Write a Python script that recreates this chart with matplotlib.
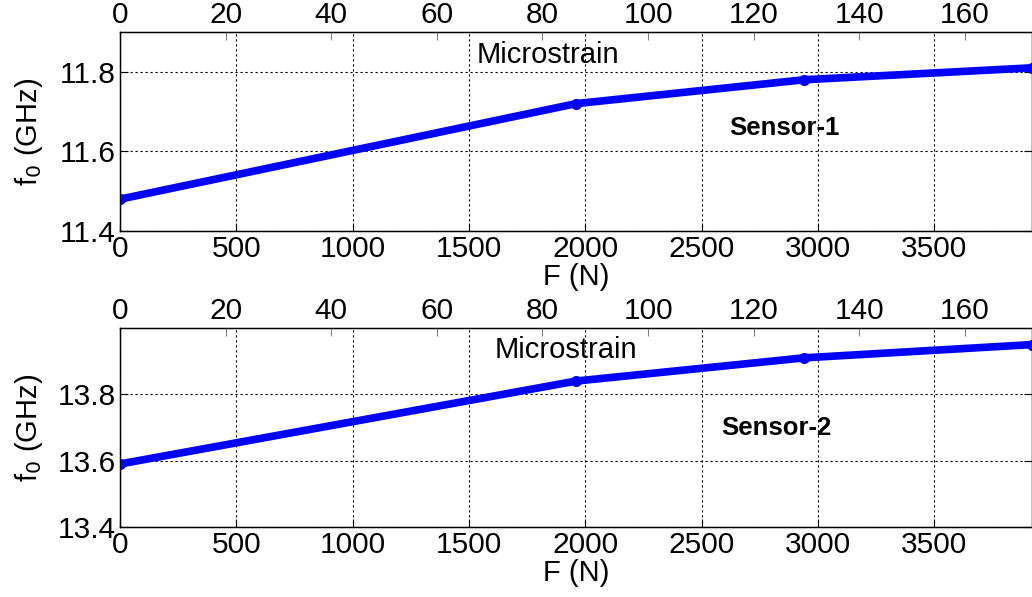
import matplotlib.pyplot as plt
import numpy as np

# data
force = [0, 1960, 2940, 3920]            # F (N)
f0_sensor1 = [11.48, 11.72, 11.78, 11.81]  # GHz
f0_sensor2 = [13.59, 13.84, 13.91, 13.95]  # GHz
strain_ticks = [0, 20, 40, 60, 80, 100, 120, 140, 160]
force_ticks = [0, 500, 1000, 1500, 2000, 2500, 3000, 3500]
strain_max = 172.7

plt.rcParams["font.family"] = ["Liberation Sans", "DejaVu Sans"]
plt.rcParams["font.size"] = 21.5

W, H = 1032, 597
fig = plt.figure(figsize=(W / 100, H / 100), dpi=100)


def make_panel(top_px, ylim, yticks, data, sensor, ms_pos, sensor_pos):
    left, right, bottom_px = 120, 1032, top_px + 199
    ax = fig.add_axes([left / W, (H - bottom_px) / H, (right - left) / W, 199 / H])
    ax.plot(force, data, color="blue", lw=5.5, marker="o", ms=7, zorder=3)
    ax.set_xlim(0, force[-1])
    ax.set_ylim(*ylim)
    ax.set_xticks(force_ticks)
    ax.set_yticks(yticks)
    ax.set_yticklabels([f"{v:.1f}" for v in yticks])
    ax.grid(True, color="black", linestyle=(0, (2, 2.5)), linewidth=0.8)
    ax.tick_params(direction="in", length=6, width=0.8, pad=3, right=True)
    for s in ax.spines.values():
        s.set_linewidth(1.0)
    ax.set_xlabel("F (N)", fontsize=21)
    ax.xaxis.set_label_coords(0.5, -0.16)
    ax.set_ylabel("f$_0$ (GHz)", fontsize=21)
    ax.yaxis.set_label_coords(-0.082, 0.5)

    # top axis: microstrain
    ax2 = ax.twiny()
    ax2.set_xlim(0, strain_max)
    ax2.set_xticks(strain_ticks)
    ax2.tick_params(direction="in", length=6, width=0.8, pad=2, color="gray")
    ax.text(*ms_pos, "Microstrain", transform=ax.transAxes, ha="center", va="center",
            fontsize=21)
    ax.text(*sensor_pos, sensor, transform=ax.transAxes, ha="center", va="center",
            fontweight="bold", fontsize=18.5)
    return ax


make_panel(32, (11.4, 11.9), [11.4, 11.6, 11.8], f0_sensor1, "Sensor-1",
           (0.469, 0.884), (0.729, 0.518))
make_panel(328, (13.4, 14.0), [13.4, 13.6, 13.8], f0_sensor2, "Sensor-2",
           (0.489, 0.889), (0.720, 0.497))

fig.savefig("out.png", dpi=100)
